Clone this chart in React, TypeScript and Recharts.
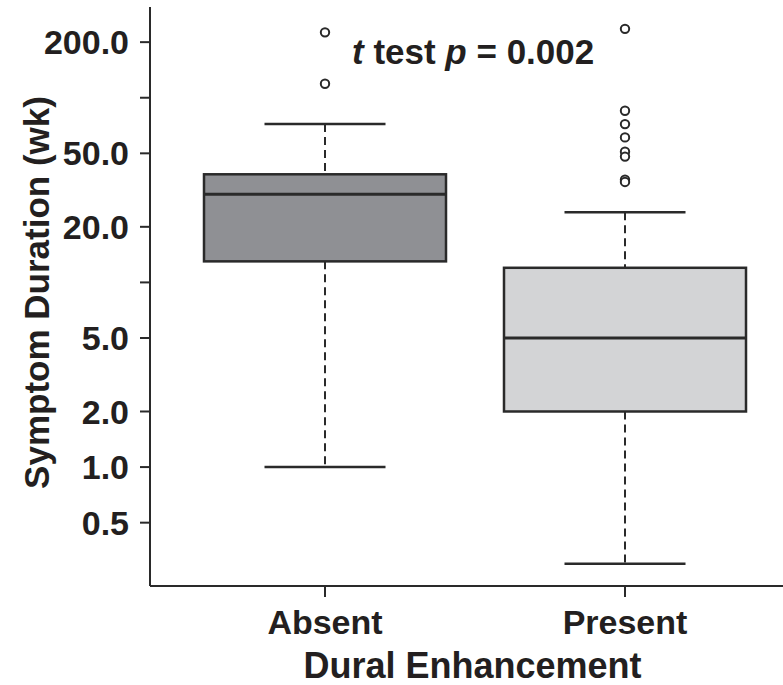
import React from 'react';
import { ComposedChart, Bar, Scatter, XAxis, YAxis, Cell, Label } from 'recharts';

// box plot values (weeks, log axis)
const categories = ['Absent', 'Present'];
const whiskerLow = [1.0, 0.3];
const quartile1 = [13, 2.0];
const medians = [30, 5.0];
const quartile3 = [38.5, 12];
const whiskerHigh = [72, 24];
const outliersAbsent = [226, 119];
const outliersPresent = [236, 85, 72, 61, 51, 48, 36, 35];

const yTicks = [0.5, 1, 2, 5, 10, 20, 50, 100, 200];
const labelledTicks = [0.5, 1, 2, 5, 20, 50, 200];

const INK = '#2a2a2a';
const TEXT = '#231f20';
const BOX_W = 242;
const boxFills = ['#8f9094', '#d3d4d6'];
const FONT = '"Liberation Sans", Arial, Helvetica, sans-serif';

const outlierSets = [outliersAbsent, outliersPresent];
const outlierKeys = Array.from(
  { length: Math.max(...outlierSets.map(o => o.length)) },
  (_, i) => `out${i}`
);

const data = categories.map((name, i) => {
  const row: Record<string, any> = {
    name,
    lower: [whiskerLow[i], quartile1[i]],
    box: [quartile1[i], quartile3[i]],
    upper: [quartile3[i], whiskerHigh[i]],
    median: medians[i],
  };
  outlierSets[i].forEach((v, k) => { row[`out${k}`] = v; });
  return row;
});

const ok = (...n: any[]) => n.every(v => Number.isFinite(v));

const UpperWhisker = (p: any) => {
  if (!ok(p.x, p.y, p.width, p.height)) return <g />;
  const cx = p.x + p.width / 2;
  return (
    <g>
      <line x1={cx} x2={cx} y1={p.y} y2={p.y + p.height} stroke={INK} strokeWidth={2} strokeDasharray="8 5" />
      <line x1={cx - p.width / 4} x2={cx + p.width / 4} y1={p.y} y2={p.y} stroke={INK} strokeWidth={2.5} />
    </g>
  );
};

const LowerWhisker = (p: any) => {
  if (!ok(p.x, p.y, p.width, p.height)) return <g />;
  const cx = p.x + p.width / 2;
  const yb = p.y + p.height;
  return (
    <g>
      <line x1={cx} x2={cx} y1={p.y} y2={yb} stroke={INK} strokeWidth={2} strokeDasharray="8 5" />
      <line x1={cx - p.width / 4} x2={cx + p.width / 4} y1={yb} y2={yb} stroke={INK} strokeWidth={2.5} />
    </g>
  );
};

const BoxShape = (p: any) => {
  if (!ok(p.x, p.y, p.width, p.height)) return <g />;
  return <rect x={p.x} y={p.y} width={p.width} height={p.height} fill={p.fill} stroke={INK} strokeWidth={2.5} />;
};

const MedianShape = (p: any) => {
  if (!ok(p.cx, p.cy)) return <g />;
  return <line x1={p.cx - BOX_W / 2} x2={p.cx + BOX_W / 2} y1={p.cy} y2={p.cy} stroke={INK} strokeWidth={3} />;
};

const OutlierShape = (p: any) => {
  if (!ok(p.cx, p.cy)) return <g />;
  return <circle cx={p.cx} cy={p.cy} r={4.2} fill="#fff" stroke={INK} strokeWidth={2} />;
};

const tickStyle = { fontSize: 34, fontWeight: 'bold', fill: TEXT, fontFamily: FONT };

export default function App() {
  return (
    <div style={{ position: 'absolute', left: 0, top: 0, width: 783, height: 685, background: '#fff', fontFamily: FONT }}>
      <ComposedChart
        width={783}
        height={685}
        data={data}
        margin={{ top: 7, right: 0, bottom: 0, left: 0 }}
        barSize={BOX_W}
        barGap={-BOX_W}
      >
        <XAxis
          dataKey="name"
          height={99}
          interval={0}
          padding={{ left: 25, right: 8 }}
          axisLine={{ stroke: INK, strokeWidth: 2 }}
          tickLine={{ stroke: INK, strokeWidth: 2 }}
          tickSize={11}
          tickMargin={13}
          tick={tickStyle}
        >
          <Label
            value="Dural Enhancement"
            position="insideBottom"
            offset={7}
            dx={6}
            style={{ fontSize: 36, fontWeight: 'bold', fill: TEXT, fontFamily: FONT }}
          />
        </XAxis>
        <YAxis
          scale="log"
          domain={[0.227, 310]}
          allowDataOverflow
          ticks={yTicks}
          interval={0}
          width={150}
          tickFormatter={(v: number) => (labelledTicks.includes(v) ? v.toFixed(1) : '')}
          axisLine={{ stroke: INK, strokeWidth: 2 }}
          tickLine={{ stroke: INK, strokeWidth: 2 }}
          tickSize={10}
          tickMargin={11}
          tick={tickStyle}
        >
          <Label
            value="Symptom Duration (wk)"
            angle={-90}
            position="insideLeft"
            offset={37}
            dy={-4}
            style={{ fontSize: 35, fontWeight: 'bold', fill: TEXT, fontFamily: FONT, textAnchor: 'middle' }}
          />
        </YAxis>
        <Bar dataKey="upper" shape={UpperWhisker} isAnimationActive={false} />
        <Bar dataKey="lower" shape={LowerWhisker} isAnimationActive={false} />
        <Bar dataKey="box" shape={BoxShape} isAnimationActive={false}>
          {data.map((d, i) => <Cell key={d.name} fill={boxFills[i]} />)}
        </Bar>
        <Scatter dataKey="median" shape={MedianShape} isAnimationActive={false} />
        {outlierKeys.map(k => (
          <Scatter key={k} dataKey={k} shape={OutlierShape} isAnimationActive={false} />
        ))}
      </ComposedChart>
      <svg width={783} height={685} style={{ position: 'absolute', left: 0, top: 0, pointerEvents: 'none' }}>
        <text x={352} y={64} fontSize={35} fontWeight="bold" fill={TEXT} fontFamily={FONT}>
          <tspan fontStyle="italic">t</tspan> test <tspan fontStyle="italic">p</tspan> = 0.002
        </text>
      </svg>
    </div>
  );
}
